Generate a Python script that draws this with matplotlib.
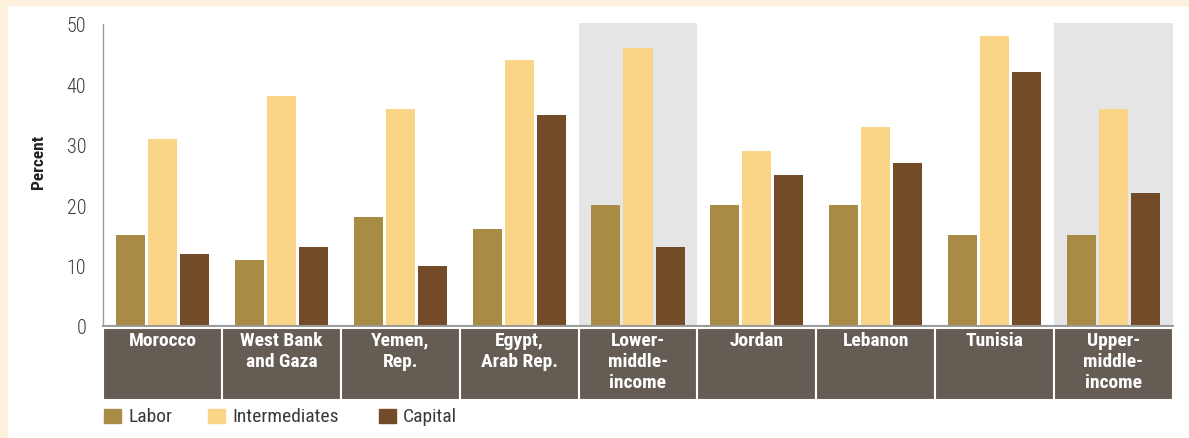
import matplotlib
matplotlib.use("Agg")
import matplotlib.pyplot as plt
from matplotlib.patches import Rectangle
import numpy as np

###   Data

countries = ["Morocco", "West Bank\nand Gaza", "Yemen,\nRep.", "Egypt,\nArab Rep.",
             "Lower-\nmiddle-\nincome", "Jordan", "Lebanon", "Tunisia",
             "Upper-\nmiddle-\nincome"]
labor = [15, 11, 18, 16, 20, 20, 20, 15, 15]
intermediates = [31, 38, 36, 44, 46, 29, 33, 48, 36]
capital = [12, 13, 10, 35, 13, 25, 27, 42, 22]
shaded = [4, 8]   # income-group benchmarks get a grey backdrop
yticks = [0, 10, 20, 30, 40, 50]

###   Style

LABOR_C = "#A88B45"
INTER_C = "#FBD587"
CAPITAL_C = "#744B28"
BOX_C = "#655D53"
SHADE_C = "#E5E5E6"
CREAM = "#FDF0DC"
TEXT_C = "#3A3A3A"

plt.rcParams["font.family"] = ["Roboto Condensed", "Archivo Narrow", "DejaVu Sans"]

fig = plt.figure(figsize=(11.89, 4.39), dpi=100)
W, H = 1189, 439

# cream frame along top and left
fig.patches.append(Rectangle((0, 0), 7 / W, 1, transform=fig.transFigure,
                             color=CREAM, zorder=0))
fig.patches.append(Rectangle((0, 1 - 6 / H), 1, 6 / H, transform=fig.transFigure,
                             color=CREAM, zorder=0))

ax = fig.add_axes([103 / W, (H - 327) / H, 1070 / W, 302 / H])
ax.set_facecolor("none")

x = np.arange(len(countries))
bw = 0.244
step = 0.27

for i in shaded:
    ax.add_patch(Rectangle((i - 0.5, 0), 1, 50.15, color=SHADE_C, zorder=0,
                           clip_on=False, linewidth=0))

ax.bar(x - step, labor, bw, color=LABOR_C, zorder=2, label="Labor")
ax.bar(x, intermediates, bw, color=INTER_C, zorder=2, label="Intermediates")
ax.bar(x + step, capital, bw, color=CAPITAL_C, zorder=2, label="Capital")

ax.set_xlim(-0.5, len(countries) - 0.5)
ax.set_ylim(0, 50)
ax.set_yticks(yticks)
ax.tick_params(axis="y", length=0, pad=12, labelsize=14.5, labelcolor=TEXT_C)
for t in ax.get_yticklabels():
    t.set_fontweight("light")
ax.set_xticks([])

for s in ["top", "right"]:
    ax.spines[s].set_visible(False)
ax.spines["left"].set_color("#999999")
ax.spines["bottom"].set_color("#999999")
ax.spines["left"].set_linewidth(1)
ax.spines["bottom"].set_linewidth(1.5)

# category label boxes under the axis
box_h = 12.0
for i, name in enumerate(countries):
    ax.add_patch(Rectangle((i - 0.5, -0.25), 1, -box_h, facecolor=BOX_C,
                           edgecolor="white", linewidth=1.5, clip_on=False,
                           zorder=3))
    ax.text(i, -0.8, name, ha="center", va="top", color="white",
            fontsize=14, fontweight="bold", linespacing=1.22, zorder=4,
            clip_on=False)

fig.text(38 / W, 1 - 162 / H, "Percent", rotation=90, ha="center",
         va="center", fontsize=12.5, fontweight="bold", color="#222222")

# legend laid out by hand along the bottom
legend_items = [("Labor", LABOR_C, 104), ("Intermediates", INTER_C, 208),
                ("Capital", CAPITAL_C, 379)]
for label, col, px in legend_items:
    fig.patches.append(Rectangle((px / W, 1 - 424 / H), 17 / W, 14 / H,
                                 transform=fig.transFigure, color=col))
    fig.text((px + 24) / W, 1 - 417 / H, label, ha="left", va="center",
             fontsize=14, color=TEXT_C)

fig.savefig("out.png", dpi=100)
